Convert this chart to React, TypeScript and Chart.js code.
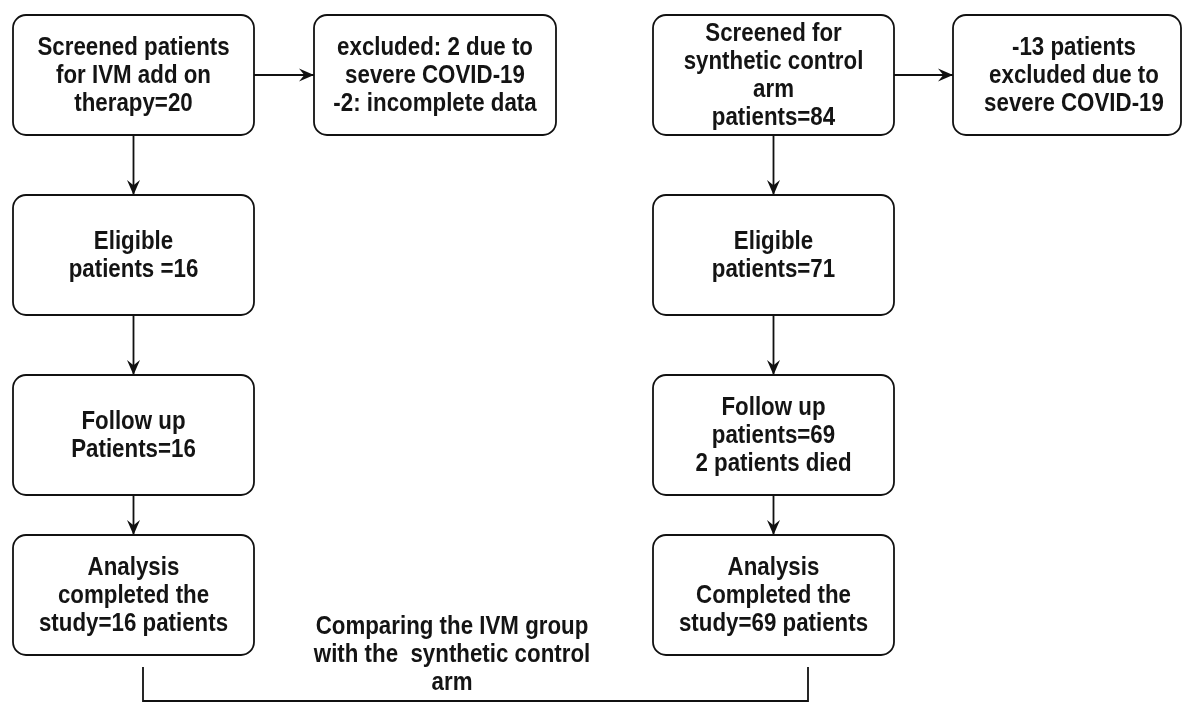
import { useEffect, useRef } from "react";
import Chart from "chart.js/auto";

// ---- content ----
const ivmSteps = [
  "Screened patients\nfor IVM add on\ntherapy=20",
  "Eligible\npatients =16",
  "Follow up\nPatients=16",
  "Analysis\ncompleted the\nstudy=16 patients",
];
const controlSteps = [
  "Screened for\nsynthetic control\narm\npatients=84",
  "Eligible\npatients=71",
  "Follow up\npatients=69\n2 patients died",
  "Analysis\nCompleted the\nstudy=69 patients",
];
const exclusionNotes = [
  "excluded: 2 due to\nsevere COVID-19\n-2: incomplete data",
  "-13 patients\nexcluded due to\nsevere COVID-19",
];
const comparisonNote = "Comparing the IVM group\nwith the  synthetic control\narm";

// ---- layout (scale units) ----
const W = 1182;
const H = 704;
const mainCols = [
  { left: 13, right: 254 },
  { left: 653, right: 894 },
];
const sideCols = [
  { left: 314, right: 556, textX: 435 },
  { left: 953, right: 1181, textX: 1074 },
];
const rows = [
  { top: 15, bottom: 135 },
  { top: 195, bottom: 315 },
  { top: 375, bottom: 495 },
  { top: 535, bottom: 655 },
];
const bracketXs = [143, 808];
const bracketTop = 667;
const bracketBottom = 701;
const notePos = { x: 452, y: 654 };

const FONT = 'bold 23px "Liberation Sans", Arial, sans-serif';
const LINE_H = 28;
const TEXT_COLOR = "#141414";
const LINE_COLOR = "#111";

type Node = { x0: number; x1: number; y0: number; y1: number; tx: number; text: string };

function buildNodes(): Node[] {
  const nodes: Node[] = [];
  [ivmSteps, controlSteps].forEach((steps, c) => {
    const col = mainCols[c];
    steps.forEach((text, r) => {
      nodes.push({ x0: col.left, x1: col.right, y0: rows[r].top, y1: rows[r].bottom, tx: (col.left + col.right) / 2, text });
    });
    const sc = sideCols[c];
    nodes.push({ x0: sc.left, x1: sc.right, y0: rows[0].top, y1: rows[0].bottom, tx: sc.textX, text: exclusionNotes[c] });
  });
  return nodes;
}

function buildDatasets() {
  const ds: any[] = [];
  const base = { showLine: true, borderColor: LINE_COLOR, borderWidth: 1.8, pointRadius: 0, fill: false, tension: 0 };
  mainCols.forEach((col, c) => {
    const cx = (col.left + col.right) / 2;
    for (let r = 0; r < rows.length - 1; r++) {
      ds.push({ ...base, arrow: true, data: [{ x: cx, y: rows[r].bottom }, { x: cx, y: rows[r + 1].top }] });
    }
    const my = (rows[0].top + rows[0].bottom) / 2;
    ds.push({ ...base, arrow: true, data: [{ x: col.right, y: my }, { x: sideCols[c].left, y: my }] });
  });
  ds.push({
    ...base,
    arrow: false,
    data: [
      { x: bracketXs[0], y: bracketTop },
      { x: bracketXs[0], y: bracketBottom },
      { x: bracketXs[1], y: bracketBottom },
      { x: bracketXs[1], y: bracketTop },
    ],
  });
  return ds;
}

function drawLines(ctx: CanvasRenderingContext2D, text: string, cx: number, cy: number) {
  const lines = text.split("\n");
  const n = lines.length;
  ctx.font = FONT;
  ctx.fillStyle = TEXT_COLOR;
  ctx.textAlign = "center";
  ctx.textBaseline = "alphabetic";
  lines.forEach((line, i) => {
    const baseline = cy + 8 + (i - (n - 1) / 2) * LINE_H;
    ctx.save();
    ctx.translate(cx, baseline);
    ctx.scale(0.97, 1.1);
    ctx.fillText(line, 0, 0);
    ctx.restore();
  });
}

function roundRect(ctx: CanvasRenderingContext2D, x0: number, y0: number, x1: number, y1: number, r: number) {
  ctx.beginPath();
  ctx.moveTo(x0 + r, y0);
  ctx.lineTo(x1 - r, y0);
  ctx.arcTo(x1, y0, x1, y0 + r, r);
  ctx.lineTo(x1, y1 - r);
  ctx.arcTo(x1, y1, x1 - r, y1, r);
  ctx.lineTo(x0 + r, y1);
  ctx.arcTo(x0, y1, x0, y1 - r, r);
  ctx.lineTo(x0, y0 + r);
  ctx.arcTo(x0, y0, x0 + r, y0, r);
  ctx.closePath();
}

const flowPlugin = {
  id: "flowchart",
  afterDatasetsDraw(chart: any) {
    const ctx: CanvasRenderingContext2D = chart.ctx;
    const xs = chart.scales.x;
    const ys = chart.scales.y;
    const px = (v: number) => xs.getPixelForValue(v);
    const py = (v: number) => ys.getPixelForValue(v);

    // arrowheads
    chart.data.datasets.forEach((d: any) => {
      if (!d.arrow) return;
      const pts = d.data;
      const a = pts[pts.length - 2];
      const b = pts[pts.length - 1];
      const tx = px(b.x), ty = py(b.y);
      const fx = px(a.x), fy = py(a.y);
      const len = Math.hypot(tx - fx, ty - fy) || 1;
      const ux = (tx - fx) / len, uy = (ty - fy) / len;
      const vx = -uy, vy = ux;
      const L = 15, Wd = 13;
      ctx.save();
      ctx.fillStyle = LINE_COLOR;
      ctx.beginPath();
      ctx.moveTo(tx, ty);
      ctx.lineTo(tx - L * ux + (Wd / 2) * vx, ty - L * uy + (Wd / 2) * vy);
      ctx.lineTo(tx - 0.65 * L * ux, ty - 0.65 * L * uy);
      ctx.lineTo(tx - L * ux - (Wd / 2) * vx, ty - L * uy - (Wd / 2) * vy);
      ctx.closePath();
      ctx.fill();
      ctx.restore();
    });

    // boxes
    buildNodes().forEach((nd) => {
      ctx.save();
      roundRect(ctx, px(nd.x0), py(nd.y0), px(nd.x1), py(nd.y1), 13);
      ctx.fillStyle = "#fff";
      ctx.fill();
      ctx.strokeStyle = LINE_COLOR;
      ctx.lineWidth = 1.8;
      ctx.stroke();
      drawLines(ctx, nd.text, px(nd.tx), py((nd.y0 + nd.y1) / 2));
      ctx.restore();
    });

    ctx.save();
    drawLines(ctx, comparisonNote, px(notePos.x), py(notePos.y));
    ctx.restore();
  },
};

export default function App() {
  const ref = useRef<HTMLCanvasElement | null>(null);
  useEffect(() => {
    if (!ref.current) return;
    const chart = new Chart(ref.current, {
      type: "scatter",
      data: { datasets: buildDatasets() },
      options: {
        responsive: false,
        maintainAspectRatio: false,
        animation: false,
        events: [],
        layout: { padding: 0 },
        plugins: { legend: { display: false }, tooltip: { enabled: false } },
        scales: {
          x: { type: "linear", min: 0, max: W, display: false },
          y: { type: "linear", min: 0, max: H, reverse: true, display: false },
        },
      },
      plugins: [flowPlugin],
    } as any);
    return () => chart.destroy();
  }, []);
  return (
    <div style={{ position: "absolute", left: 0, top: 0, width: W, height: H, background: "#fff" }}>
      <canvas ref={ref} width={W} height={H} style={{ display: "block" }} />
    </div>
  );
}
